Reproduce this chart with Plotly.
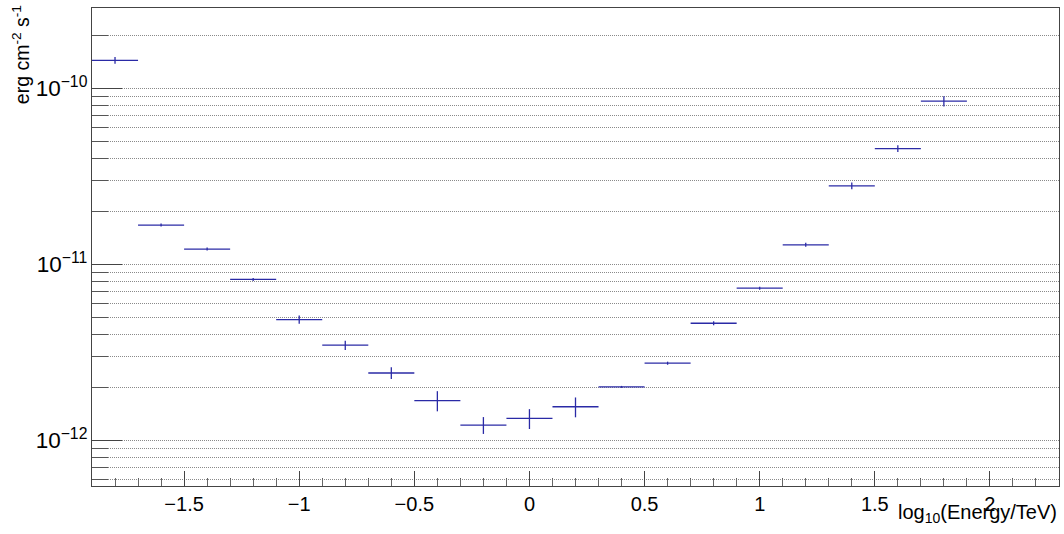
import plotly.graph_objects as go

# Data
log_energy = [-1.8, -1.6, -1.4, -1.2, -1.0, -0.8, -0.6, -0.4, -0.2, 0.0,
              0.2, 0.4, 0.6, 0.8, 1.0, 1.2, 1.4, 1.6, 1.8]
half_width = [0.1] * 19
flux = [1.44e-10, 1.67e-11, 1.22e-11, 8.2e-12, 4.85e-12, 3.47e-12, 2.41e-12,
        1.68e-12, 1.22e-12, 1.33e-12, 1.55e-12, 2.01e-12, 2.74e-12, 4.62e-12,
        7.31e-12, 1.29e-11, 2.79e-11, 4.54e-11, 8.45e-11]
flux_err = [6.3e-12, 3.3e-13, 2.4e-13, 1.6e-13, 2.6e-13, 2.1e-13, 1.85e-13,
            2.2e-13, 1.34e-13, 1.72e-13, 2.0e-13, 2.6e-14, 5.5e-14, 1.2e-13,
            1.5e-13, 3.4e-13, 1.2e-12, 2.0e-12, 5.7e-12]

y_title = "erg cm<sup>-2</sup> s<sup>-1</sup>"
x_title = "log<sub>10</sub>(Energy/TeV)"

blue = "#2a2aa6"
font_family = "Liberation Sans, Arial, sans-serif"
grid_dash = "1px,1px"
grid_color = "#8a8a8a"

# Plotly centres the axis title; an invisible lead-in pushes the text to the top (ROOT style)
y_title_padded = '<span style="color:rgba(0,0,0,0)">' + "." * 71 + "</span>" + y_title

fig = go.Figure()
fig.add_trace(go.Scatter(
    x=log_energy, y=flux, mode="markers",
    marker=dict(size=0.1, color=blue, opacity=0),
    error_x=dict(type="data", array=half_width, color=blue, thickness=1.3, width=0),
    error_y=dict(type="data", array=flux_err, color=blue, thickness=1.3, width=0),
    showlegend=False, hoverinfo="x+y",
))

fig.update_layout(
    width=1064, height=534,
    margin=dict(l=92, r=5, t=8, b=48),
    paper_bgcolor="white", plot_bgcolor="white",
    font=dict(family=font_family, size=19, color="black"),
    xaxis=dict(
        range=[-1.9, 2.3], dtick=0.5, tick0=0,
        ticks="inside", ticklen=15, tickcolor="#444", tickwidth=1,
        showgrid=False, zeroline=False,
        showline=True, linecolor="#444", linewidth=1, mirror=True,
        minor=dict(dtick=0.1, ticks="inside", ticklen=8, tickcolor="#666", showgrid=False),
        tickfont=dict(size=20),
    ),
    yaxis=dict(
        type="log", range=[-12.26, -9.544], dtick=1,
        exponentformat="power", showexponent="all",
        ticks="inside", ticklen=30, tickcolor="#444", tickwidth=1,
        showgrid=True, gridcolor=grid_color, griddash=grid_dash, gridwidth=1,
        zeroline=False,
        showline=True, linecolor="#444", linewidth=1, mirror=True,
        minor=dict(dtick="D1", ticks="inside", ticklen=16, tickcolor="#555",
                   showgrid=True, gridcolor=grid_color, griddash=grid_dash, gridwidth=1),
        tickfont=dict(size=18),
        title=dict(text=y_title_padded, font=dict(size=19.5), standoff=0),
    ),
    annotations=[
        dict(text=x_title,
             xref="paper", yref="paper", x=1, y=0, xanchor="right", yanchor="top",
             xshift=0, yshift=-13, showarrow=False, font=dict(size=20)),
    ],
)

fig.write_html("out.html")
